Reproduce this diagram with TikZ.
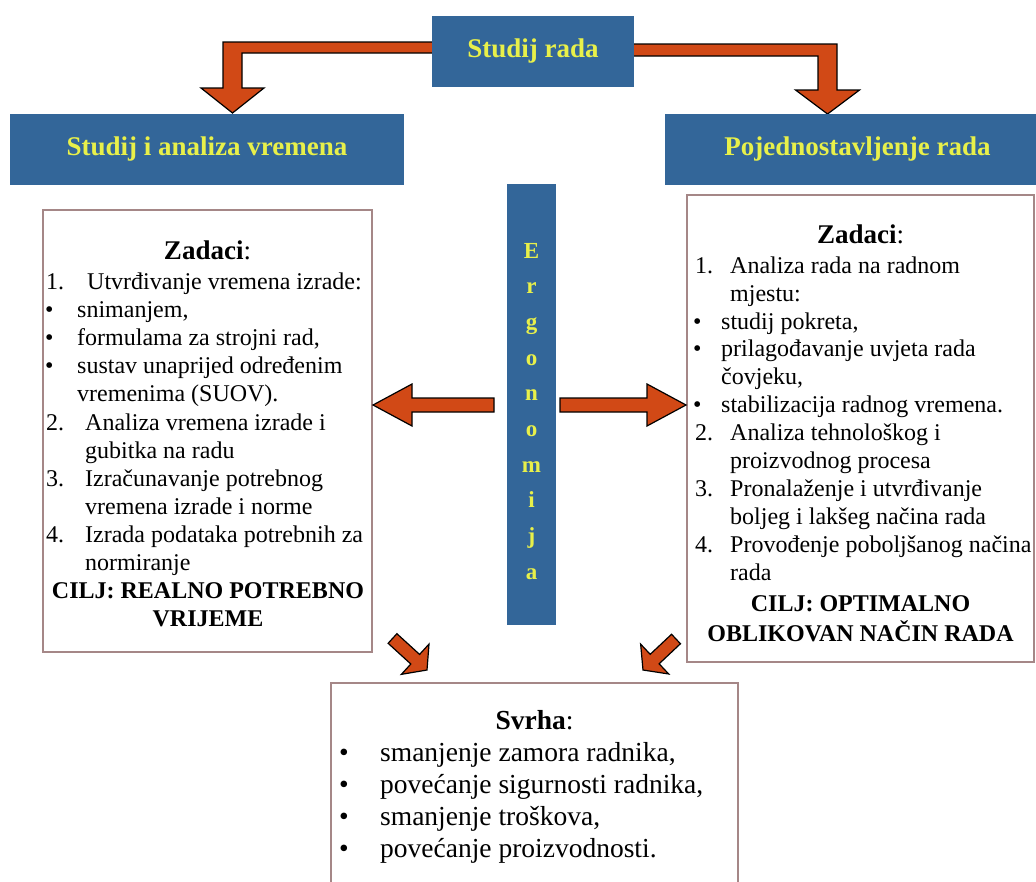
\documentclass[tikz,border=0pt]{standalone}
\usepackage{fontspec}
\setmainfont{Liberation Serif}
\usetikzlibrary{calc}
\definecolor{plava}{RGB}{51,102,153}
\definecolor{zuta}{RGB}{232,240,74}
\definecolor{narancasta}{RGB}{209,73,22}
\definecolor{okvir}{RGB}{165,135,135}
% block arrow: tail, tip, shaft half-width, head half-width, head length
\newcommand{\blokstrelica}[5]{%
  \coordinate (baza) at ($(#2)!#5!(#1)$);
  \filldraw[strel] ($(#1)!#3!90:(#2)$) -- ($(baza)!#3!-90:(#1)$) -- ($(baza)!#4!-90:(#1)$) -- (#2)
    -- ($(baza)!#4!90:(#1)$) -- ($(baza)!#3!90:(#1)$) -- ($(#1)!#3!-90:(#2)$) -- cycle;}

\begin{document}
\begin{tikzpicture}[x=1pt,y=-1pt,
  naslov/.style={fill=plava, text=zuta, inner sep=0pt, font=\bfseries\fontsize{27}{32}\selectfont},
  kutija/.style={draw=okvir, line width=2pt, fill=white, inner sep=0pt},
  strel/.style={fill=narancasta, draw=black, line width=1.2pt},
  redak/.style={anchor=base west, inner sep=0pt, font=\fontsize{24}{28}\selectfont},
  sredina/.style={anchor=base, inner sep=0pt, font=\bfseries\fontsize{24}{28}\selectfont},
  slovo/.style={anchor=base, inner sep=0pt, text=zuta, font=\bfseries\fontsize{23}{26}\selectfont}]
\useasboundingbox (0,0) rectangle (1036,881);

% bent arrows from the top box
\filldraw[strel] (440,42) -- (223,42) -- (223,88) -- (201,88) -- (232.5,113) -- (264,88) -- (242,88) -- (242,53) -- (440,53) -- cycle;
\filldraw[strel] (627,44) -- (837,44) -- (837,90) -- (859.5,90) -- (827.5,114) -- (795.5,90) -- (818,90) -- (818,56) -- (627,56) -- cycle;

\node[naslov, minimum width=202pt, minimum height=71pt] (studij) at (533,51.5) {Studij rada};
\node[naslov, minimum width=394pt, minimum height=71pt] (analiza) at (207,149.5) {Studij i analiza vremena};
\node[naslov, minimum width=385pt, minimum height=71pt] (pojed) at (857.5,149.5) {Pojednostavljenje rada};
\node[naslov, minimum width=49pt, minimum height=441pt] (ergo) at (531.5,404.5) {};
\node[slovo] (e1) at (531.5,258) {E};
\node[slovo] (e2) at (531.5,293.7) {r};
\node[slovo] (e3) at (531.5,329.4) {g};
\node[slovo] (e4) at (531.5,365.1) {o};
\node[slovo] (e5) at (531.5,400.8) {n};
\node[slovo] (e6) at (531.5,436.5) {o};
\node[slovo] (e7) at (531.5,472.2) {m};
\node[slovo] (e8) at (531.5,507.9) {i};
\node[slovo] (e9) at (531.5,543.6) {j};
\node[slovo] (e10) at (531.5,579.3) {a};

% left box
\node[kutija, minimum width=329pt, minimum height=442pt] (zadL) at (207.5,431) {};
\node[sredina, font=\fontsize{27}{32}\selectfont] (naslovL) at (207.5,259) {\textbf{Zadaci}:};
\node[redak] (l1) at (46,289) {\makebox[41pt][l]{1.}Utvrđivanje vremena izrade:};
\node[redak] (l2) at (45,317) {\makebox[32pt][l]{\textbullet}snimanjem,};
\node[redak] (l3) at (45,345) {\makebox[32pt][l]{\textbullet}formulama za strojni rad,};
\node[redak] (l4) at (45,373) {\makebox[32pt][l]{\textbullet}sustav unaprijed određenim};
\node[redak] (l5) at (77,401) {vremenima (SUOV).};
\node[redak] (l6) at (46,430) {\makebox[39pt][l]{2.}Analiza vremena izrade i};
\node[redak] (l7) at (85,458) {gubitka na radu};
\node[redak] (l8) at (46,486) {\makebox[39pt][l]{3.}Izračunavanje potrebnog};
\node[redak] (l9) at (85,514) {vremena izrade i norme};
\node[redak] (l10) at (46,542) {\makebox[39pt][l]{4.}Izrada podataka potrebnih za};
\node[redak] (l11) at (85,570) {normiranje};
\node[sredina] (ciljL1) at (208,598) {CILJ: REALNO POTREBNO};
\node[sredina] (ciljL2) at (208,626) {VRIJEME};

% right box
\node[kutija, minimum width=347pt, minimum height=467pt] (zadD) at (860.5,428.5) {};
\node[sredina, font=\fontsize{27}{32}\selectfont] (naslovD) at (860.5,243) {\textbf{Zadaci}:};
\node[redak] (d1) at (695,273) {\makebox[35pt][l]{1.}Analiza rada na radnom};
\node[redak] (d2) at (730,301) {mjestu:};
\node[redak] (d3) at (693,329) {\makebox[28pt][l]{\textbullet}studij pokreta,};
\node[redak] (d4) at (693,356) {\makebox[28pt][l]{\textbullet}prilagođavanje uvjeta rada};
\node[redak] (d5) at (721,384) {čovjeku,};
\node[redak] (d6) at (693,412) {\makebox[28pt][l]{\textbullet}stabilizacija radnog vremena.};
\node[redak] (d7) at (695,440) {\makebox[35pt][l]{2.}Analiza tehnološkog i};
\node[redak] (d8) at (730,468) {proizvodnog procesa};
\node[redak] (d9) at (695,496) {\makebox[35pt][l]{3.}Pronalaženje i utvrđivanje};
\node[redak] (d10) at (730,524) {boljeg i lakšeg načina rada};
\node[redak] (d11) at (695,552) {\makebox[35pt][l]{4.}Provođenje poboljšanog načina};
\node[redak] (d12) at (730,580) {rada};
\node[sredina] (ciljD1) at (860.5,611) {CILJ: OPTIMALNO};
\node[sredina] (ciljD2) at (860.5,641) {OBLIKOVAN NAČIN RADA};

% bottom box
\node[kutija, minimum width=407pt, minimum height=230pt] (svrha) at (534.5,798) {};
\node[sredina, font=\fontsize{27.5}{32}\selectfont] (naslovS) at (534.5,729) {\textbf{Svrha}:};
\node[redak, font=\fontsize{27.5}{32}\selectfont] (s1) at (339,761) {\makebox[41pt][l]{\textbullet}smanjenje zamora radnika,};
\node[redak, font=\fontsize{27.5}{32}\selectfont] (s2) at (339,793) {\makebox[41pt][l]{\textbullet}povećanje sigurnosti radnika,};
\node[redak, font=\fontsize{27.5}{32}\selectfont] (s3) at (339,825) {\makebox[41pt][l]{\textbullet}smanjenje troškova,};
\node[redak, font=\fontsize{27.5}{32}\selectfont] (s4) at (339,857) {\makebox[41pt][l]{\textbullet}povećanje proizvodnosti.};

% straight arrows
\coordinate (repL) at (494,405);
\coordinate (vrhL) at (zadL.east |- repL);
\coordinate (repD) at (560,405);
\coordinate (vrhD) at (zadD.west |- repD);
\blokstrelica{repL}{vrhL}{7pt}{21pt}{39pt}
\blokstrelica{repD}{vrhD}{7pt}{21pt}{39pt}
\coordinate (repSL) at (392.5,638.5);
\coordinate (vrhSL) at (427,670);
\coordinate (repSD) at (676,639);
\coordinate (vrhSD) at (643,670);
\blokstrelica{repSL}{vrhSL}{6.5pt}{20.5pt}{16pt}
\blokstrelica{repSD}{vrhSD}{6.5pt}{20.5pt}{16pt}
\end{tikzpicture}
\end{document}
